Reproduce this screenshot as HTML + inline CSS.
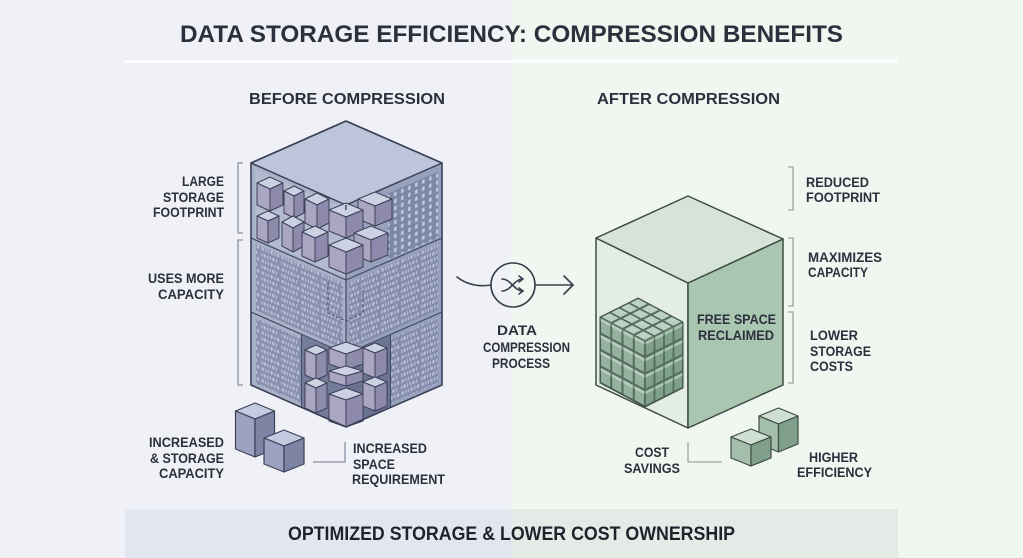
<!DOCTYPE html>
<html><head><meta charset="utf-8"><style>
html,body{margin:0;padding:0;background:#f0f2f6;}
svg{display:block;}
text{font-family:"Liberation Sans",sans-serif;font-weight:bold;fill:#2c303d;}
</style></head><body>
<svg width="1023" height="558" viewBox="0 0 1023 558" xmlns="http://www.w3.org/2000/svg">
<defs>
<pattern id="bin" patternUnits="userSpaceOnUse" width="20" height="12">
<g fill="#c6cce0" opacity="0.8">
<rect x="1" y="1" width="1.2" height="3.6"/><rect x="3.4" y="1" width="2.4" height="3.6" rx="0.9"/><rect x="7" y="1" width="1.2" height="3.6"/><rect x="9.6" y="1" width="1.2" height="3.6"/><rect x="12.2" y="1" width="2.4" height="3.6" rx="0.9"/><rect x="16" y="1" width="1.2" height="3.6"/>
<rect x="1.5" y="7" width="2.4" height="3.6" rx="0.9"/><rect x="5.2" y="7" width="1.2" height="3.6"/><rect x="7.8" y="7" width="1.2" height="3.6"/><rect x="10.4" y="7" width="2.4" height="3.6" rx="0.9"/><rect x="14.2" y="7" width="1.2" height="3.6"/><rect x="16.8" y="7" width="2.4" height="3.6" rx="0.9"/>
</g>
</pattern>
<pattern id="dots" patternUnits="userSpaceOnUse" width="7" height="7">
<rect x="2" y="1.5" width="2.6" height="4" fill="#cdd3e5" opacity="0.85"/>
</pattern>
<pattern id="gtop" patternUnits="userSpaceOnUse" width="10" height="10" patternTransform="matrix(-0.95,0.475,1.125,0.6,638,298)">
<rect x="0.6" y="0.6" width="8.8" height="8.8" fill="#bcd1c2" stroke="#435a4c" stroke-width="0.6"/>
</pattern>
<pattern id="gleft" patternUnits="userSpaceOnUse" width="10" height="10" patternTransform="matrix(1.125,0.6,0,1.65,600,317)">
<rect x="0.6" y="0.6" width="8.8" height="8.8" fill="#94b29f" stroke="#435a4c" stroke-width="0.5"/>
<rect x="0.6" y="0.6" width="8.8" height="1.8" fill="#b8cebf"/>
</pattern>
<pattern id="gright" patternUnits="userSpaceOnUse" width="10" height="10" patternTransform="matrix(0.95,-0.475,0,1.65,645,341)">
<rect x="0.6" y="0.6" width="8.8" height="8.8" fill="#7fa08b" stroke="#435a4c" stroke-width="0.5"/>
<rect x="0.6" y="0.6" width="8.8" height="1.8" fill="#adc6b6"/>
</pattern>
</defs>

<!-- backgrounds -->
<rect x="0" y="0" width="511" height="558" fill="#f0f1f6"/>
<rect x="511" y="0" width="512" height="558" fill="#f0f6f0"/>
<line x1="125" y1="61.5" x2="898" y2="61.5" stroke="#ffffff" stroke-width="2.5"/>

<!-- title -->
<text x="180" y="42" font-size="24" textLength="663" lengthAdjust="spacingAndGlyphs">DATA STORAGE EFFICIENCY: COMPRESSION BENEFITS</text>
<text x="249" y="104" font-size="15.5" textLength="196" lengthAdjust="spacingAndGlyphs">BEFORE COMPRESSION</text>
<text x="597" y="104" font-size="15.5" textLength="183" lengthAdjust="spacingAndGlyphs">AFTER COMPRESSION</text>

<!-- ============ LEFT CUBE ============ -->
<g transform="matrix(1,0.442,0,1,0,52.06)">
<rect x="251" y="0" width="95" height="222" fill="#a9b1c8"/>
<rect x="255" y="4" width="91" height="69" fill="#b4bbd0"/>
<rect x="256" y="79" width="87" height="66" fill="#8790ae"/>
<rect x="256" y="79" width="87" height="66" fill="url(#bin)"/>
<rect x="256" y="153" width="45" height="65" fill="#8790ae"/>
<rect x="256" y="153" width="45" height="65" fill="url(#bin)"/>
<rect x="302" y="150" width="44" height="72" fill="#737c9a"/>
<line x1="251" y1="75" x2="346" y2="75" stroke="#434a64" stroke-width="1.3"/>
<line x1="251" y1="149" x2="346" y2="149" stroke="#434a64" stroke-width="1.3"/>
<line x1="301.5" y1="149" x2="301.5" y2="222" stroke="#434a64" stroke-width="1"/>
</g>
<g transform="matrix(1,-0.4375,0,1,0,356.375)">
<rect x="346" y="0" width="96" height="222" fill="#98a1bc"/>
<rect x="388" y="7" width="50" height="66" fill="#7d87a6"/>
<rect x="388" y="7" width="50" height="66" fill="url(#dots)"/>
<rect x="349" y="79" width="89" height="66" fill="#838cab"/>
<rect x="349" y="79" width="89" height="66" fill="url(#bin)"/>
<rect x="346" y="150" width="44" height="72" fill="#6a7391"/>
<rect x="391" y="153" width="47" height="65" fill="#838cab"/>
<rect x="391" y="153" width="47" height="65" fill="url(#bin)"/>
<line x1="346" y1="75" x2="442" y2="75" stroke="#434a64" stroke-width="1.3"/>
<line x1="346" y1="149" x2="442" y2="149" stroke="#434a64" stroke-width="1.3"/>
<line x1="390.5" y1="149" x2="390.5" y2="222" stroke="#434a64" stroke-width="1"/>
</g>
<path d="M328,282 V313 L346,321 L363,313 V290" fill="none" stroke="#3f4660" stroke-width="0.9" stroke-dasharray="3,2"/>
<polygon points="346,121 442,163 346,205 251,163" fill="#bcc5d9" stroke="#3a4058" stroke-width="1.5" stroke-linejoin="round"/>

<g stroke="#3d4158" stroke-width="1" stroke-linejoin="round">
<polygon points="270,177 283,183 270,189 257,183" fill="#ccd1e3"/><polygon points="257,183 270,189 270,211 257,205" fill="#aaa6c2"/><polygon points="270,189 283,183 283,205 270,211" fill="#8e8aab"/>
<polygon points="294,186 304,191 294,196 284,191" fill="#ccd1e3"/><polygon points="284,191 294,196 294,218 284,213" fill="#aaa6c2"/><polygon points="294,196 304,191 304,213 294,218" fill="#8e8aab"/>
<polygon points="375,192 392,199 375,206 358,199" fill="#ccd1e3"/><polygon points="358,199 375,206 375,226 358,219" fill="#aaa6c2"/><polygon points="375,206 392,199 392,219 375,226" fill="#8e8aab"/>
<polygon points="317,193 329,199 317,205 305,199" fill="#ccd1e3"/><polygon points="305,199 317,205 317,229 305,223" fill="#aaa6c2"/><polygon points="317,205 329,199 329,223 317,229" fill="#8e8aab"/>
<polygon points="346,203 363,210 346,217 329,210" fill="#ccd1e3"/><polygon points="329,210 346,217 346,238 329,231" fill="#aaa6c2"/><polygon points="346,217 363,210 363,231 346,238" fill="#8e8aab"/>
<polygon points="268,211 279,216 268,221 257,216" fill="#ccd1e3"/><polygon points="257,216 268,221 268,243 257,238" fill="#aaa6c2"/><polygon points="268,221 279,216 279,238 268,243" fill="#8e8aab"/>
<polygon points="293,216 304,222 293,228 282,222" fill="#ccd1e3"/><polygon points="282,222 293,228 293,252 282,246" fill="#aaa6c2"/><polygon points="293,228 304,222 304,246 293,252" fill="#8e8aab"/>
<polygon points="315,226 328,232 315,238 302,232" fill="#ccd1e3"/><polygon points="302,232 315,238 315,262 302,256" fill="#aaa6c2"/><polygon points="315,238 328,232 328,256 315,262" fill="#8e8aab"/>
<polygon points="371,226 388,233 371,240 354,233" fill="#ccd1e3"/><polygon points="354,233 371,240 371,262 354,255" fill="#aaa6c2"/><polygon points="371,240 388,233 388,255 371,262" fill="#8e8aab"/>
<polygon points="346,238 363,245 346,252 329,245" fill="#ccd1e3"/><polygon points="329,245 346,252 346,274 329,267" fill="#aaa6c2"/><polygon points="346,252 363,245 363,267 346,274" fill="#8e8aab"/>
</g>
<line x1="346" y1="274" x2="346" y2="342" stroke="#434a64" stroke-width="1.2"/>

<g stroke="#3d4158" stroke-width="1" stroke-linejoin="round">
<polygon points="346,342 363,348 346,354 329,348" fill="#ccd1e3"/><polygon points="329,348 346,354 346,370 329,364" fill="#aaa6c2"/><polygon points="346,354 363,348 363,364 346,370" fill="#8e8aab"/>
<polygon points="316,345 327,350 316,355 305,350" fill="#ccd1e3"/><polygon points="305,350 316,355 316,380 305,375" fill="#aaa6c2"/><polygon points="316,355 327,350 327,375 316,380" fill="#8e8aab"/>
<polygon points="375,343 387,348 375,353 363,348" fill="#ccd1e3"/><polygon points="363,348 375,353 375,378 363,373" fill="#aaa6c2"/><polygon points="375,353 387,348 387,373 375,378" fill="#8e8aab"/>
<polygon points="346,366 363,371 346,376 329,371" fill="#ccd1e3"/><polygon points="329,371 346,376 346,386 329,381" fill="#aaa6c2"/><polygon points="346,376 363,371 363,381 346,386" fill="#8e8aab"/>
<polygon points="316,378 327,383 316,388 305,383" fill="#ccd1e3"/><polygon points="305,383 316,388 316,413 305,408" fill="#aaa6c2"/><polygon points="316,388 327,383 327,408 316,413" fill="#8e8aab"/>
<polygon points="375,377 387,382 375,387 363,382" fill="#ccd1e3"/><polygon points="363,382 375,387 375,411 363,406" fill="#aaa6c2"/><polygon points="375,387 387,382 387,406 375,411" fill="#8e8aab"/>
<polygon points="346,388 363,394 346,400 329,394" fill="#ccd1e3"/><polygon points="329,394 346,400 346,427 329,421" fill="#aaa6c2"/><polygon points="346,400 363,394 363,421 346,427" fill="#8e8aab"/>
</g>
<polygon points="346,121 442,163 442,385 346,427 251,385 251,163" fill="none" stroke="#3a4058" stroke-width="1.6" stroke-linejoin="round"/>
<line x1="346" y1="205" x2="346" y2="210" stroke="#3a4058" stroke-width="1.4"/>

<g stroke="#3a4058" stroke-width="1.2" stroke-linejoin="round">
<polygon points="255,403 274.5,411 255,419 235.5,411" fill="#c4cadf"/><polygon points="235.5,411 255,419 255,457 235.5,449" fill="#9da2c0"/><polygon points="255,419 274.5,411 274.5,449 255,457" fill="#7e84a4"/>
<polygon points="284,430 304,438 284,446 264,438" fill="#c4cadf"/><polygon points="264,438 284,446 284,472 264,464" fill="#9da2c0"/><polygon points="284,446 304,438 304,464 284,472" fill="#7e84a4"/>
</g>

<g fill="none" stroke="#8c91a2" stroke-width="1.3">
<path d="M243,163 H238 V233 H243"/>
<path d="M243,240 H238 V385 H243"/>
<path d="M345,442 V462 H313"/>
</g>

<g font-size="13.5">
<text x="182" y="186" textLength="42" lengthAdjust="spacingAndGlyphs">LARGE</text>
<text x="163" y="202" textLength="61" lengthAdjust="spacingAndGlyphs">STORAGE</text>
<text x="153" y="217" textLength="71" lengthAdjust="spacingAndGlyphs">FOOTPRINT</text>
<text x="148" y="283" textLength="76" lengthAdjust="spacingAndGlyphs">USES MORE</text>
<text x="158" y="299" textLength="66" lengthAdjust="spacingAndGlyphs">CAPACITY</text>
<text x="149" y="447" textLength="75" lengthAdjust="spacingAndGlyphs">INCREASED</text>
<text x="150" y="463" textLength="74" lengthAdjust="spacingAndGlyphs">&amp; STORAGE</text>
<text x="159" y="478" textLength="65" lengthAdjust="spacingAndGlyphs">CAPACITY</text>
<text x="353" y="453" textLength="74" lengthAdjust="spacingAndGlyphs">INCREASED</text>
<text x="353" y="469" textLength="42" lengthAdjust="spacingAndGlyphs">SPACE</text>
<text x="352" y="484" textLength="93" lengthAdjust="spacingAndGlyphs">REQUIREMENT</text>
</g>

<!-- middle -->
<g fill="none" stroke="#3a3e4c" stroke-width="1.6" stroke-linecap="round" stroke-linejoin="round">
<path d="M457,277 C466,284 478,287 491,285"/>
<circle cx="513" cy="285" r="22"/>
<path d="M535,285 H573"/>
<path d="M564,276 L573,285 L564,294"/>
<path d="M502,279 C511,279 514,291 523,291"/>
<path d="M502,291 C511,291 514,279 523,279"/>
<path d="M519,276 L523,279 L519,282"/>
<path d="M519,288 L523,291 L519,294"/>
</g>
<g font-size="14">
<text x="497" y="335" textLength="40" lengthAdjust="spacingAndGlyphs">DATA</text>
<text x="483" y="352" textLength="87" lengthAdjust="spacingAndGlyphs">COMPRESSION</text>
<text x="492" y="368" textLength="58" lengthAdjust="spacingAndGlyphs">PROCESS</text>
</g>

<!-- ============ RIGHT CUBE ============ -->
<polygon points="596,238 688,283 688,428 596,385" fill="#e4ede5" stroke="#3d4b43" stroke-width="1.5" stroke-linejoin="round"/>
<polygon points="688,283 783,239 783,385 688,428" fill="#a9c6b1" stroke="#3d4b43" stroke-width="1.5" stroke-linejoin="round"/>
<polygon points="688,196 783,239 688,283 596,238" fill="#d5e3d8" stroke="#3d4b43" stroke-width="1.5" stroke-linejoin="round"/>
<polygon points="638,298 600,317 645,341 683,322" fill="#5f7968"/>
<polygon points="600,317 645,341 645,407 600,383" fill="#5f7968"/>
<polygon points="645,341 683,322 683,388 645,407" fill="#5f7968"/>
<polygon points="638,298 600,317 645,341 683,322" fill="url(#gtop)"/>
<polygon points="600,317 645,341 645,407 600,383" fill="url(#gleft)"/>
<polygon points="645,341 683,322 683,388 645,407" fill="url(#gright)"/>
<polygon points="638,298 683,322 683,388 645,407 600,383 600,317" fill="none" stroke="#3e5346" stroke-width="1"/>

<g font-size="13.5">
<text x="697" y="324" textLength="79" lengthAdjust="spacingAndGlyphs">FREE SPACE</text>
<text x="698" y="340" textLength="76" lengthAdjust="spacingAndGlyphs">RECLAIMED</text>
</g>

<g stroke="#3d4b43" stroke-width="1.2" stroke-linejoin="round">
<polygon points="778.5,408 798,416 778.5,424 759,416" fill="#d0dfd3"/><polygon points="759,416 778.5,424 778.5,452 759,444" fill="#a3bfab"/><polygon points="778.5,424 798,416 798,444 778.5,452" fill="#809f8a"/>
<polygon points="751,429 771,437 751,445 731,437" fill="#d0dfd3"/><polygon points="731,437 751,445 751,466 731,458" fill="#a3bfab"/><polygon points="751,445 771,437 771,458 751,466" fill="#809f8a"/>
</g>

<g fill="none" stroke="#9ba99f" stroke-width="1.3">
<path d="M788,167 H793 V210 H788"/>
<path d="M788,238 H793 V306 H788"/>
<path d="M788,312 H793 V383 H788"/>
<path d="M688,442 V462 H722"/>
</g>

<g font-size="13.5">
<text x="806" y="187" textLength="63" lengthAdjust="spacingAndGlyphs">REDUCED</text>
<text x="806" y="202" textLength="74" lengthAdjust="spacingAndGlyphs">FOOTPRINT</text>
<text x="808" y="262" textLength="74" lengthAdjust="spacingAndGlyphs">MAXIMIZES</text>
<text x="808" y="277" textLength="60" lengthAdjust="spacingAndGlyphs">CAPACITY</text>
<text x="810" y="340" textLength="48" lengthAdjust="spacingAndGlyphs">LOWER</text>
<text x="810" y="356" textLength="61" lengthAdjust="spacingAndGlyphs">STORAGE</text>
<text x="810" y="371" textLength="43" lengthAdjust="spacingAndGlyphs">COSTS</text>
<text x="635" y="457" textLength="34" lengthAdjust="spacingAndGlyphs">COST</text>
<text x="624" y="473" textLength="56" lengthAdjust="spacingAndGlyphs">SAVINGS</text>
<text x="809" y="462" textLength="49" lengthAdjust="spacingAndGlyphs">HIGHER</text>
<text x="797" y="477" textLength="75" lengthAdjust="spacingAndGlyphs">EFFICIENCY</text>
</g>

<!-- footer -->
<rect x="125" y="509" width="386" height="49" fill="#e3e5f0"/>
<rect x="511" y="509" width="387" height="49" fill="#e4eae6"/>
<text x="288" y="540" font-size="19" textLength="447" lengthAdjust="spacingAndGlyphs" style="fill:#1f222b">OPTIMIZED STORAGE &amp; LOWER COST OWNERSHIP</text>
</svg>
</body></html>
